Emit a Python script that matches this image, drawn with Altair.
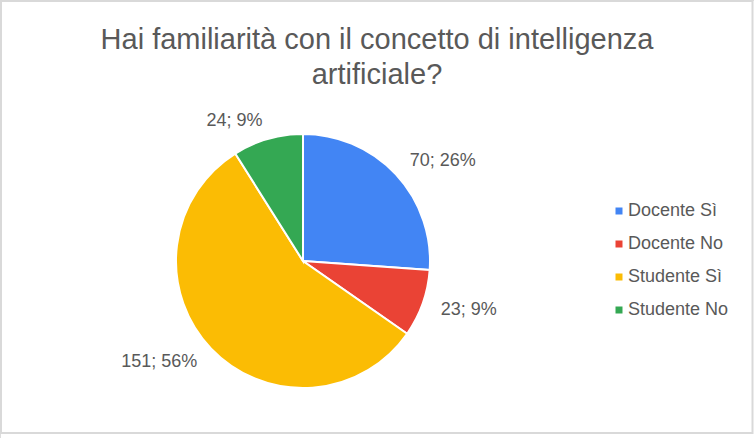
import altair as alt
import pandas as pd

categories = ["Docente Sì", "Docente No", "Studente Sì", "Studente No"]
values = [70, 23, 151, 24]
colors = ["#4285F4", "#EA4335", "#FBBC04", "#34A853"]
title_lines = ["Hai familiarità con il concetto di intelligenza", "artificiale?"]

df = pd.DataFrame({"cat": categories, "value": values, "idx": list(range(len(values)))})

FONT = "Liberation Sans"
CX, CY, R = 303, 261, 127

base = alt.Chart(df).transform_joinaggregate(
    total="sum(value)"
).transform_window(
    cum="sum(value)", sort=[alt.SortField("idx")]
).transform_calculate(
    label="datum.value + '; ' + round(datum.value / datum.total * 100) + '%'",
    side="(datum.cum - datum.value / 2) / datum.total < 0.5 ? 'R' : 'L'",
)

theta = alt.Theta("value:Q", stack=True)
order = alt.Order("idx:Q", sort="ascending")

pie = base.mark_arc(outerRadius=R, stroke="white", strokeWidth=2).encode(
    theta=theta,
    order=order,
    x=alt.value(CX),
    y=alt.value(CY),
    color=alt.Color(
        "cat:N",
        scale=alt.Scale(domain=categories, range=colors),
        sort=categories,
        legend=alt.Legend(
            title=None,
            orient="none",
            legendX=610,
            legendY=202,
            symbolType="square",
            symbolSize=49,
            symbolStrokeWidth=0,
            labelFontSize=18,
            labelFont=FONT,
            labelColor="#595959",
            labelOffset=0,
            rowPadding=15,
        ),
    ),
)

text_style = dict(radius=R + 19, fontSize=18, font=FONT, color="#595959", baseline="middle")

labels_right = base.mark_text(align="left", **text_style).encode(
    theta=theta,
    order=order,
    x=alt.value(CX),
    y=alt.value(CY),
    text=alt.condition("datum.side == 'R'", alt.Text("label:N"), alt.value("")),
)
labels_left = base.mark_text(align="right", **text_style).encode(
    theta=theta,
    order=order,
    x=alt.value(CX),
    y=alt.value(CY),
    text=alt.condition("datum.side == 'L'", alt.Text("label:N"), alt.value("")),
)

border = alt.Chart(alt.Data(values=[{}])).mark_rect(
    fill=None, stroke="#D9D9D9", strokeWidth=2
).encode(x=alt.value(1), x2=alt.value(752.5), y=alt.value(1), y2=alt.value(433))

chart = alt.layer(border, pie, labels_right, labels_left).properties(
    width=754,
    height=438,
    padding=0,
    autosize=alt.AutoSizeParams(type="none"),
    title=alt.TitleParams(
        text=title_lines,
        fontSize=29,
        font=FONT,
        fontWeight="normal",
        color="#595959",
        anchor="middle",
        baseline="top",
        lineHeight=35,
        offset=-90,
    ),
).configure_view(stroke=None).configure(background="white")

chart.save("out.html", embed_options={"renderer": "svg", "actions": False})
